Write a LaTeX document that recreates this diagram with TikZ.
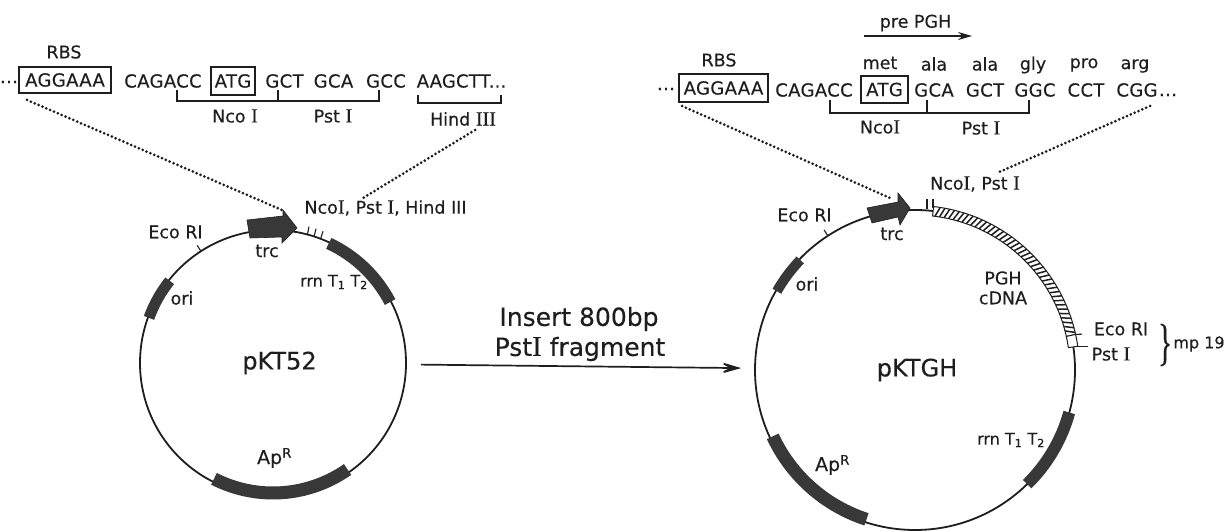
\documentclass[tikz,border=0pt]{standalone}
\usepackage{fontspec}
\setmainfont{DejaVu Sans}[FakeBold=0.25]
\newfontfamily\romf{Liberation Serif}[Scale=1.15,FakeBold=0.3]
\usetikzlibrary{calc,arrows.meta}
\newcommand{\RI}{{\romf I}}
\newcommand{\RIII}{{\romf III}}
\definecolor{ink}{HTML}{1E1E1E}
\definecolor{band}{HTML}{383838}
\tikzset{
  lab/.style={inner sep=0pt,text=ink,font=\fontsize{17.5}{17.5}\selectfont},
  small/.style={inner sep=0pt,text=ink,font=\fontsize{16}{16}\selectfont},
  seq/.style={inner sep=0pt,text=ink,font=\fontsize{18}{18}\selectfont\addfontfeature{LetterSpace=2}},
  big/.style={inner sep=0pt,text=ink,font=\fontsize{24}{24}\selectfont},
  seqbox/.style={draw=ink,line width=1.2pt,inner sep=0pt},
  plasmid/.style={circle,draw=ink,line width=1.8pt,inner sep=0pt},
  genebar/.style={draw=band,line width=12pt},
  tick/.style={draw=ink,line width=1.1pt},
  bracket/.style={draw=ink,line width=1.5pt},
  dots/.style={draw=ink,line width=3pt,line cap=round,dash pattern=on 0pt off 4.2pt},
  promoter/.style={fill=band,draw=ink,line width=.6pt},
  flow/.style={draw=ink,line width=1.7pt,-{Stealth[length=26pt,width=15pt,inset=15pt]}},
}
\begin{document}
\begin{tikzpicture}[x=1pt,y=1pt,shift={(0,530)}]
\useasboundingbox (0,-530) rectangle (1231,0);
\fill[white] (0,-530) rectangle (1231,0);

% plasmid circles
\node[plasmid,minimum size=266pt] (p1) at (273,-363) {};
\node[plasmid,minimum size=320pt] (p2) at (915,-370) {};
\draw[flow,shorten <=14pt,shorten >=13pt] (p1) -- (p2);

% left plasmid features
\draw[genebar] (p1.center) ++(65:132pt) arc[start angle=65,end angle=27.5,radius=132pt];
\draw[genebar,line width=11pt] (p1.center) ++(141.5:132pt) arc[start angle=141.5,end angle=160,radius=132pt];
\draw[genebar,line width=13pt] (p1.center) ++(243:130pt) arc[start angle=243,end angle=305,radius=130pt];
\draw[tick] (p1.center) ++(122.8:133pt) -- ++(122.8:7pt);
\foreach \a in {75,72,69}{\draw[tick] (p1.center) ++(\a:133pt) -- ++(\a+4:8pt);}
\filldraw[promoter] (247,-220) -- (283,-216) -- (283,-210) -- (297,-228) -- (282,-243) -- (282,-237) -- (250,-238) -- cycle;

% right plasmid features
\draw[genebar] (p2.center) ++(-15.4:160pt) arc[start angle=-15.4,end angle=-45.5,radius=160pt];
\draw[genebar,line width=10pt] (p2.center) ++(136.2:159pt) arc[start angle=136.2,end angle=150.3,radius=159pt];
\draw[genebar,line width=13pt] (p2.center) ++(205:157pt) arc[start angle=205,end angle=252,radius=157pt];
\draw[tick] (p2.center) ++(123:160pt) -- ++(123:7pt);
\draw[tick] (927,-199) -- (927,-209);
\draw[tick] (933,-199) -- (933,-208);
\filldraw[promoter] (867,-208) -- (898,-202) -- (898,-193) -- (910,-208) -- (900,-225) -- (898,-217) -- (872,-223) -- cycle;
% PGH cDNA hatched insert
\filldraw[draw=ink,fill=white,line width=1pt] (p2.center) ++(83.5:155pt) arc[start angle=83.5,end angle=12.5,radius=155pt] -- ++(12.5:9.5pt) arc[start angle=12.5,end angle=83.5,radius=164.5pt] -- cycle;
\foreach \a in {82.6,80.9,...,13.2}{\draw[draw=ink,line width=1.5pt] (p2.center) ++(\a:155pt) -- ($(p2.center)+({\a-1.4}:164.5pt)$);}
\filldraw[draw=ink,fill=white,line width=1pt] (p2.center) ++(12.5:155pt) arc[start angle=12.5,end angle=8.3,radius=155pt] -- ++(8.3:9.5pt) arc[start angle=8.3,end angle=12.5,radius=164.5pt] -- cycle;
\draw[tick] (p2.center) ++(12.5:164pt) -- ++(3:7pt);
\draw[tick] (p2.center) ++(8.3:164pt) -- ++(0:11pt);

% left sequence
\node[lab] (rbsA) at (64,-52) {RBS};
\node[seq] (dotsA) at (9,-82) {...};
\node[seq,seqbox,minimum width=92pt,minimum height=26pt] (boxA) at (65,-80) {AGGAAA};
\node[seq] (cagA) at (163,-81) {CAGACC};
\node[seq,seqbox,minimum width=44pt,minimum height=28pt] (atgA) at (233,-81) {ATG};
\node[seq] (gctA) at (284.5,-81) {GCT};
\node[seq] (gcaA) at (333.5,-81) {GCA};
\node[seq] (gccA) at (386,-81) {GCC};
\node[seq,font=\fontsize{18}{18}\selectfont\addfontfeature{LetterSpace=1}] (hindA) at (461.5,-81) {AAGCTT...};
\draw[bracket] (177,-90) -- (177,-101) -- (379,-101) -- (379,-90);
\draw[bracket] (278,-90) -- (278,-101);
\draw[bracket] (418,-95) -- (418,-103) -- (501,-103) -- (501,-95);
\node[lab] (ncoA) at (235,-116) {Nco \RI};
\node[lab] (pstA) at (333,-116) {Pst \RI};
\node[lab] (hdA) at (463,-119) {Hind \RIII};
\node[lab] (siteA) at (385.5,-208) {Nco\RI, Pst \RI, Hind III};
\coordinate (dA1) at (27,-100);
\coordinate (dA2) at (282,-210);
\coordinate (dA3) at (475,-130);
\coordinate (dA4) at (363,-198);
\draw[dots] (dA1) -- (dA2);
\draw[dots] (dA3) -- (dA4);

% left plasmid labels
\node[lab] (ecoA) at (175.5,-232) {Eco RI};
\node[lab] (oriA) at (182,-298) {ori};
\node[lab] (trcA) at (267,-251) {trc};
\node[small] (rrnA) at (334,-282) {rrn T\textsubscript{1} T\textsubscript{2}};
\node[big] (nameA) at (279.5,-363) {pKT52};
\node[lab,font=\fontsize{19}{19}\selectfont] (apA) at (274.5,-458) {Ap\textsuperscript{R}};

% centre label
\node[big,font=\fontsize{25}{25}\selectfont] (insA) at (579,-319) {Insert 800bp};
\node[big,font=\fontsize{25}{25}\selectfont] (insB) at (580,-349) {Pst\RI\ fragment};

% right sequence
\node[lab] (preB) at (915.5,-23) {pre PGH};
\coordinate (preL) at (864,-36);
\coordinate (preR) at (972,-36);
\draw[draw=ink,line width=1.5pt,-{Stealth[length=14pt,width=8pt]}] (preL) -- (preR);
\node[lab] (rbsB) at (719,-60) {RBS};
\node[seq] (dotsB) at (666,-89) {...};
\node[seq,seqbox,minimum width=89pt,minimum height=28pt] (boxB) at (723.5,-88) {AGGAAA};
\node[seq] (cagB) at (814,-90) {CAGACC};
\node[seq,seqbox,minimum width=47pt,minimum height=27pt] (atgB) at (884.5,-89.5) {ATG};
\node[seq] (gcaB) at (934,-90) {GCA};
\node[seq] (gctB) at (985,-90) {GCT};
\node[seq] (ggcB) at (1035,-90) {GGC};
\node[seq] (cctB) at (1086,-90) {CCT};
\node[seq] (cggB) at (1137,-90) {CGG};
\node[seq] (dotsC) at (1168,-95) {...};
\node[lab] (metB) at (880,-63) {met};
\node[lab] (alaB) at (934,-64) {ala};
\node[lab] (alaC) at (985,-64) {ala};
\node[lab] (glyB) at (1033,-65) {gly};
\node[lab] (proB) at (1084,-65) {pro};
\node[lab] (argB) at (1135,-66) {arg};
\draw[bracket] (830,-100) -- (830,-113) -- (1029,-113) -- (1029,-100);
\draw[bracket] (927,-100) -- (927,-113);
\node[lab] (ncoB) at (880,-127) {Nco\RI};
\node[lab] (pstB) at (981,-128) {Pst \RI};
\node[lab] (siteB) at (975,-184) {Nco\RI, Pst \RI};
\coordinate (dB1) at (682,-106);
\coordinate (dB2) at (890,-198);
\coordinate (dB3) at (1150,-106);
\coordinate (dB4) at (997,-173);
\draw[dots] (dB1) -- (dB2);
\draw[dots] (dB3) -- (dB4);

% right plasmid labels
\node[lab] (ecoB) at (804.5,-215) {Eco RI};
\node[lab] (oriB) at (807,-284) {ori};
\node[lab] (trcB) at (892,-234) {trc};
\node[lab] (pghB) at (1003,-278) {PGH};
\node[lab] (cdnaB) at (1003,-298) {cDNA};
\node[big] (nameB) at (917,-370) {pKTGH};
\node[lab,font=\fontsize{19}{19}\selectfont] (apB) at (832.5,-465) {Ap\textsuperscript{R}};
\node[small] (rrnB) at (1011,-440) {rrn T\textsubscript{1} T\textsubscript{2}};
\node[lab] (ecoC) at (1121,-329) {Eco RI};
\node[lab] (pstC) at (1111,-354) {Pst \RI};
\node[lab,font=\fontsize{26}{26}\selectfont\romf,yscale=1.7] (brace) at (1165,-345) {\}};
\node[small] (mpB) at (1199,-344) {mp 19};
\end{tikzpicture}
\end{document}
